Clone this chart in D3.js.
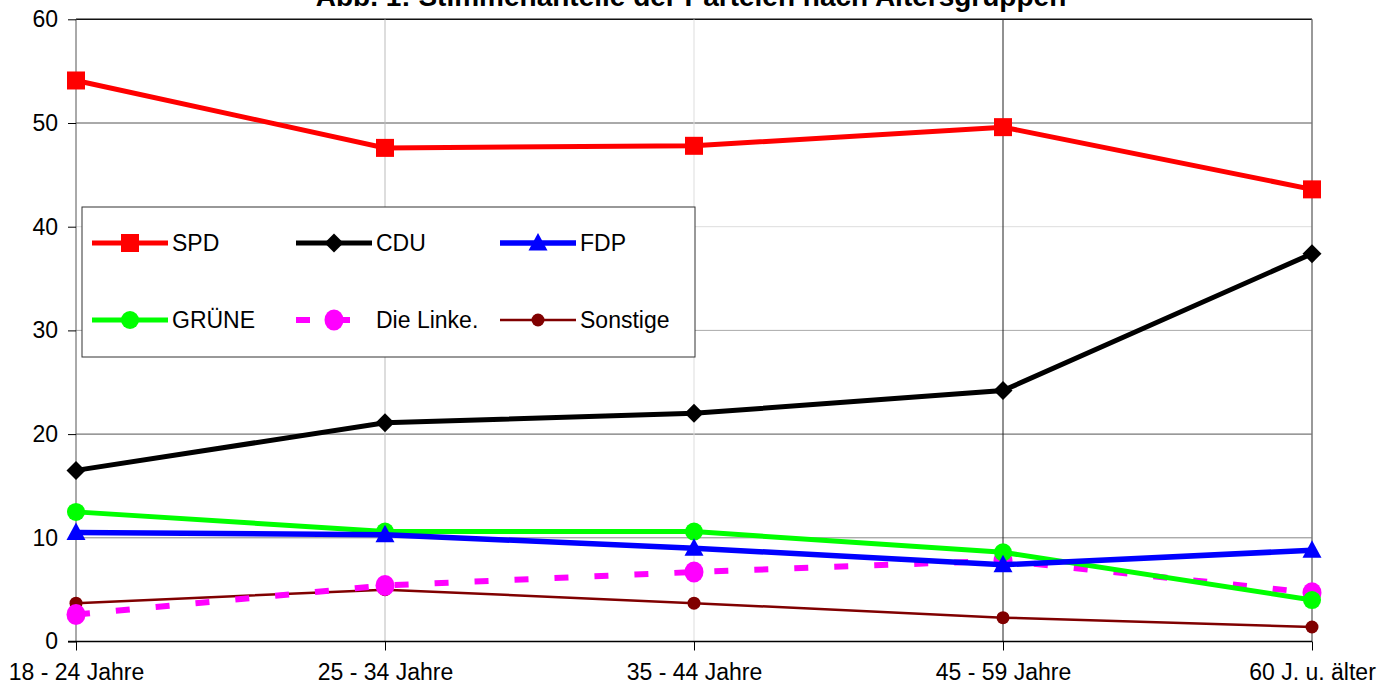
<!DOCTYPE html>
<html>
<head>
<meta charset="utf-8">
<script src="https://cdn.jsdelivr.net/npm/d3@7"></script>
<style>
  body { margin: 0; background: #fff; }
  svg { display: block; font-family: Arial, "Liberation Sans", sans-serif; }
</style>
</head>
<body>
<div id="chart"></div>
<script>
// age groups on the x axis
var groups = ["18 - 24 Jahre", "25 - 34 Jahre", "35 - 44 Jahre", "45 - 59 Jahre", "60 J. u. älter"];
var yTicks = [0, 10, 20, 30, 40, 50, 60];

// vote shares per party (percent)
var spd      = [54.1, 47.6, 47.8, 49.6, 43.6];
var cdu      = [16.5, 21.1, 22.0, 24.2, 37.4];
var fdp      = [10.5, 10.3, 9.0, 7.4, 8.8];
var gruene   = [12.5, 10.6, 10.6, 8.6, 4.0];
var linke    = [2.6, 5.4, 6.7, 7.8, 4.7];
var sonstige = [3.7, 5.0, 3.7, 2.3, 1.4];

var partyNames = ["SPD", "CDU", "FDP", "GRÜNE", "Die Linke.", "Sonstige"];

var width = 1394, height = 686;
var margin = { top: 19.3, right: 82, bottom: 44.5, left: 76 };
var fontSize = "23px";

var svg = d3.select("#chart").append("svg")
    .attr("width", width)
    .attr("height", height);

var xScale = d3.scalePoint()
    .domain(groups)
    .range([margin.left, width - margin.right]);

var yScale = d3.scaleLinear()
    .domain([0, 60])
    .range([height - margin.bottom, margin.top]);

// the original's gridlines render in uneven greys
var hGridColor = { 10: "#888", 20: "#555", 30: "#aaa", 40: "#ddd", 50: "#555", 60: "#111" };
var vGridColor = ["#555", "#bbb", "#ddd", "#222", "#777"];

// title is clipped by the top edge, as in the original
svg.append("text")
    .attr("x", 691)
    .attr("y", 6)
    .attr("text-anchor", "middle")
    .style("font-size", "28px")
    .style("font-weight", "bold")
    .text("Abb. 1: Stimmenanteile der Parteien nach Altersgruppen");

// horizontal gridlines
svg.append("g").selectAll("line")
    .data(yTicks.filter(function(d){ return d > 0; }))
    .enter().append("line")
    .attr("x1", margin.left)
    .attr("x2", width - margin.right)
    .attr("y1", function(d){ return yScale(d); })
    .attr("y2", function(d){ return yScale(d); })
    .attr("stroke", function(d){ return hGridColor[d]; })
    .attr("stroke-width", function(d){ return d == 60 ? 1.5 : 1; });

// vertical gridlines
svg.append("g").selectAll("line")
    .data(groups)
    .enter().append("line")
    .attr("x1", function(d){ return xScale(d); })
    .attr("x2", function(d){ return xScale(d); })
    .attr("y1", yScale(60))
    .attr("y2", yScale(0))
    .attr("stroke", function(d, i){ return vGridColor[i]; })
    .attr("stroke-width", function(d, i){ return i == 4 ? 1.5 : 1; });

var yAxisGen = d3.axisLeft(yScale).tickValues(yTicks).tickSize(8).tickPadding(10);
var yAxis = svg.append("g")
    .attr("class", "Yaxis")
    .attr("transform", "translate(" + margin.left + ",0)")
    .call(yAxisGen);
yAxis.select(".domain").remove();
yAxis.selectAll(".tick line").attr("stroke", "#000");
yAxis.selectAll("text")
    .style("font-size", fontSize)
    .style("font-family", "Arial, 'Liberation Sans', sans-serif")
    .attr("fill", "#000");

var xAxisGen = d3.axisBottom(xScale).tickSize(9).tickPadding(13).tickSizeOuter(0);
var xAxis = svg.append("g")
    .attr("class", "Xaxis")
    .attr("transform", "translate(0," + yScale(0) + ")")
    .call(xAxisGen);
xAxis.select(".domain").remove();
xAxis.selectAll(".tick line").attr("stroke", "#000");
xAxis.selectAll("text")
    .style("font-size", fontSize)
    .style("font-family", "Arial, 'Liberation Sans', sans-serif")
    .attr("fill", "#000")
    .attr("dy", "0.71em");

// x axis line, running out to the left tick
svg.append("line")
    .attr("x1", margin.left - 8)
    .attr("x2", width - margin.right)
    .attr("y1", yScale(0))
    .attr("y2", yScale(0))
    .attr("stroke", "#000")
    .attr("stroke-width", 1.5);

var series = [
    { name: partyNames[0], values: spd,      color: "#ff0000", width: 5,   dash: null,    marker: "square" },
    { name: partyNames[1], values: cdu,      color: "#000000", width: 5,   dash: null,    marker: "diamond" },
    { name: partyNames[2], values: fdp,      color: "#0000ff", width: 5.5, dash: null,    marker: "triangle" },
    { name: partyNames[3], values: gruene,   color: "#00ff00", width: 5,   dash: null,    marker: "circle" },
    { name: partyNames[4], values: linke,    color: "#ff00ff", width: 6,   dash: "14,26", marker: "bigcircle" },
    { name: partyNames[5], values: sonstige, color: "#800000", width: 2.5, dash: null,    marker: "dot" }
];

function drawMarker(g, type, color) {
    if (type == "square") {
        g.append("rect").attr("x", -9).attr("y", -9).attr("width", 18).attr("height", 18).attr("fill", color);
    } else if (type == "diamond") {
        g.append("path").attr("d", d3.symbol().type(d3.symbolSquare).size(180)()).attr("transform", "rotate(45)").attr("fill", color);
    } else if (type == "triangle") {
        g.append("path").attr("d", "M0,-10L9.5,7.5L-9.5,7.5Z").attr("fill", color);
    } else if (type == "circle") {
        g.append("circle").attr("r", 9).attr("fill", color);
    } else if (type == "bigcircle") {
        g.append("ellipse").attr("rx", 9.5).attr("ry", 10.5).attr("fill", color);
    } else {
        g.append("circle").attr("r", 6.5).attr("fill", color);
    }
}

var line = d3.line()
    .x(function(d, i){ return xScale(groups[i]); })
    .y(function(d){ return yScale(d); });

// legend box sits under the lines
var legend = svg.append("g").attr("class", "legend");
legend.append("rect")
    .attr("x", 82)
    .attr("y", 207)
    .attr("width", 613)
    .attr("height", 150)
    .attr("fill", "#fff")
    .attr("stroke", "#333")
    .attr("stroke-width", 1);

series.forEach(function(s, k){
    var col = k % 3, row = Math.floor(k / 3);
    var lx = 92 + col * 204, ly = 243 + row * 77;
    legend.append("line")
        .attr("x1", lx).attr("x2", lx + 76)
        .attr("y1", ly).attr("y2", ly)
        .attr("stroke", s.color)
        .attr("stroke-width", s.width)
        .attr("stroke-dasharray", s.dash);
    drawMarker(legend.append("g").attr("transform", "translate(" + (lx + 38) + "," + ly + ")"), s.marker, s.color);
    legend.append("text")
        .attr("x", lx + 80)
        .attr("y", ly)
        .attr("dy", "0.36em")
        .style("font-size", fontSize)
        .text(s.name);
});

var plot = svg.append("g").attr("class", "g_main");
// draw bottom series first so SPD ends up on top
series.slice().reverse().forEach(function(s){
    plot.append("path")
        .datum(s.values)
        .attr("d", line)
        .attr("fill", "none")
        .attr("stroke", s.color)
        .attr("stroke-width", s.width)
        .attr("stroke-dasharray", s.dash);
    s.values.forEach(function(v, i){
        drawMarker(plot.append("g").attr("transform", "translate(" + xScale(groups[i]) + "," + yScale(v) + ")"), s.marker, s.color);
    });
});
</script>
</body>
</html>
